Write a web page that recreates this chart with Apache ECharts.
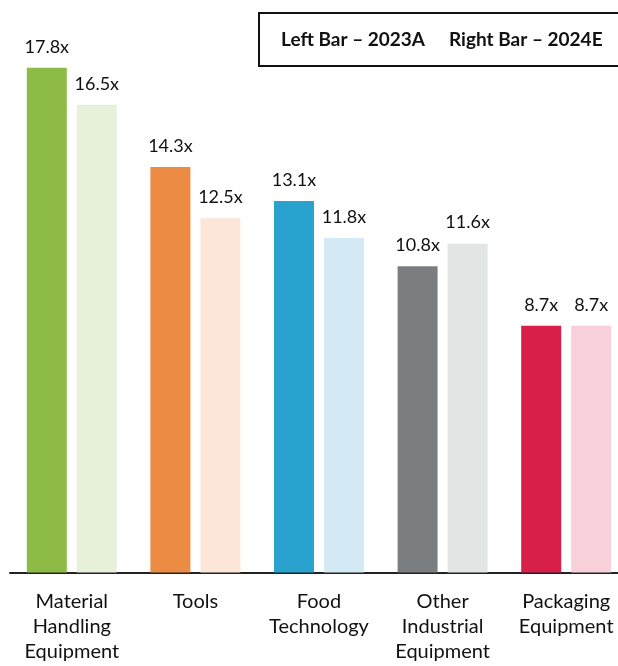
<!DOCTYPE html>
<html>
<head>
<meta charset="utf-8">
<script src="https://cdn.jsdelivr.net/npm/echarts@6/dist/echarts.min.js"></script>
<style>
  html, body { margin: 0; padding: 0; background: #fff; overflow: hidden; }
  #chart { width: 628px; height: 666px; }
</style>
</head>
<body>
<div id="chart"></div>
<script>
// EV/EBITDA multiples by sector
const categories = ['Material\nHandling\nEquipment', 'Tools', 'Food\nTechnology', 'Other\nIndustrial\nEquipment', 'Packaging\nEquipment'];
const values2023A = [17.8, 14.3, 13.1, 10.8, 8.7];
const values2024E = [16.5, 12.5, 11.8, 11.6, 8.7];
const legendParts = ['Left Bar – 2023A', 'Right Bar – 2024E'];

// sector palette: strong tone for 2023A, pale tone for 2024E
const darkColors = ['#8DBB45', '#EC8B43', '#2AA2CE', '#7B7E81', '#D81F4A'];
const lightColors = ['#E6F0DA', '#FBE6D9', '#D3EAF4', '#E3E4E4', '#F7D0DA'];

const FONT = 'Lato';

function labelStyle() {
  return {
    show: true,
    position: 'top',
    distance: 12,
    fontFamily: FONT,
    fontSize: 18,
    color: '#111',
    formatter: p => p.value.toFixed(1) + 'x'
  };
}

function legendText(text, x) {
  return {
    type: 'text',
    x: x,
    y: 40,
    style: {
      text: text,
      fontFamily: FONT,
      fontWeight: 'bold',
      fontSize: 19,
      fill: '#111',
      verticalAlign: 'middle'
    },
    z: 11
  };
}

const chart = echarts.init(document.getElementById('chart'), null, { renderer: 'canvas' });
chart.setOption({
  animation: false,
  backgroundColor: '#fff',
  grid: { left: 10, top: 5.5, right: 0, height: 567 },
  xAxis: {
    type: 'category',
    data: categories,
    axisLine: { lineStyle: { color: '#222', width: 2 } },
    axisTick: { show: false },
    axisLabel: {
      interval: 0,
      margin: 17,
      fontFamily: FONT,
      fontSize: 20,
      lineHeight: 25,
      color: '#111'
    }
  },
  yAxis: {
    type: 'value',
    min: 0,
    max: 20,
    show: false,
    splitLine: { show: false }
  },
  series: [
    {
      name: '2023A',
      type: 'bar',
      barWidth: 40,
      barGap: '25%',
      data: values2023A.map((v, i) => ({ value: v, itemStyle: { color: darkColors[i] } })),
      label: labelStyle()
    },
    {
      name: '2024E',
      type: 'bar',
      barWidth: 40,
      barGap: '25%',
      data: values2024E.map((v, i) => ({ value: v, itemStyle: { color: lightColors[i] } })),
      label: labelStyle()
    }
  ],
  graphic: [
    {
      type: 'rect',
      shape: { x: 259, y: 13, width: 370, height: 53 },
      style: { fill: '#fff', stroke: '#111', lineWidth: 2 },
      z: 10
    },
    legendText(legendParts[0], 281),
    legendText(legendParts[1], 449)
  ]
});
</script>
</body>
</html>
